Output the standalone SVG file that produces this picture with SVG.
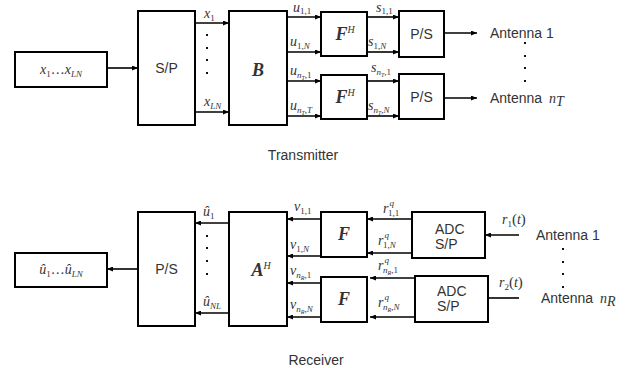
<svg xmlns="http://www.w3.org/2000/svg" width="640" height="368" viewBox="0 0 640 368">
<style>
.box{fill:#fff;stroke:#000;stroke-width:2}
.ln{stroke:#000;stroke-width:1.6;fill:none}
.ar{marker-end:url(#ah)}
.t{font-family:"Liberation Sans",Arial,sans-serif;font-size:14px;fill:#333}
.m{font-family:"Liberation Serif","Times New Roman",serif;font-style:italic;font-size:14px;fill:#333}
.b{font-weight:bold;font-size:18px}
.up{font-style:normal}
.dot{fill:#111}
</style>
<defs>
<marker id="ah" markerUnits="userSpaceOnUse" markerWidth="6" markerHeight="5" refX="6" refY="2.5" orient="auto">
<path d="M0,0 L6,2.5 L0,5 Z" fill="#000"/>
</marker>
</defs>
<rect width="640" height="368" fill="#fff"/>

<g id="connectors">
<line class="ln ar" x1="107" y1="68" x2="138" y2="68"/>
<line class="ln ar" x1="195" y1="23" x2="229" y2="23"/>
<line class="ln ar" x1="195" y1="112" x2="229" y2="112"/>
<line class="ln ar" x1="287" y1="17" x2="321" y2="17"/>
<line class="ln ar" x1="287" y1="52" x2="321" y2="52"/>
<line class="ln ar" x1="287" y1="81" x2="321" y2="81"/>
<line class="ln ar" x1="287" y1="116" x2="321" y2="116"/>
<line class="ln ar" x1="367" y1="17" x2="399" y2="17"/>
<line class="ln ar" x1="367" y1="52" x2="399" y2="52"/>
<line class="ln ar" x1="367" y1="81" x2="399" y2="81"/>
<line class="ln ar" x1="367" y1="116" x2="399" y2="116"/>
<line class="ln ar" x1="444" y1="33" x2="477" y2="33"/>
<line class="ln ar" x1="444" y1="98" x2="477" y2="98"/>

<line class="ln ar" x1="138" y1="269" x2="107" y2="269"/>
<line class="ln ar" x1="229" y1="223" x2="195" y2="223"/>
<line class="ln ar" x1="229" y1="313" x2="195" y2="313"/>
<line class="ln ar" x1="321" y1="219" x2="287" y2="219"/>
<line class="ln ar" x1="321" y1="256" x2="287" y2="256"/>
<line class="ln ar" x1="321" y1="283" x2="287" y2="283"/>
<line class="ln ar" x1="321" y1="317" x2="287" y2="317"/>
<line class="ln ar" x1="412" y1="219" x2="367" y2="219"/>
<line class="ln ar" x1="412" y1="253" x2="367" y2="253"/>
<line class="ln ar" x1="415" y1="278" x2="370" y2="278"/>
<line class="ln ar" x1="415" y1="317" x2="370" y2="317"/>
<line class="ln ar" x1="519" y1="235" x2="485" y2="235"/>
<line class="ln" x1="519" y1="298" x2="488" y2="298"/>
</g>

<g id="tx-input">
<rect class="box" x="15" y="52" width="92" height="35"/>
<text class="m" x="61" y="74" text-anchor="middle">x<tspan class="up" font-size="9" dy="3">1</tspan><tspan class="up" dy="-3">…</tspan>x<tspan font-size="9" dy="3">LN</tspan></text>
</g>
<g id="tx-sp">
<rect class="box" x="138" y="11" width="57" height="114"/>
<text class="t" x="166.5" y="73" text-anchor="middle">S/P</text>
</g>
<g id="tx-labels-x">
<text class="m" x="204" y="18">x<tspan class="up" font-size="9" dy="3">1</tspan></text>
<text class="m" x="204" y="106">x<tspan font-size="9" dy="3">LN</tspan></text>
<rect class="dot" x="206" y="34" width="2" height="2"/>
<rect class="dot" x="206" y="47" width="2" height="2"/>
<rect class="dot" x="206" y="59" width="2" height="2"/>
<rect class="dot" x="206" y="72" width="2" height="2"/>
</g>
<g id="tx-B">
<rect class="box" x="229" y="11" width="58" height="114"/>
<text class="m b" x="258" y="76" text-anchor="middle">B</text>
</g>
<g id="tx-u-labels">
<text class="m" x="293" y="12">u<tspan class="up" font-size="9" dy="2">1,1</tspan></text>
<text class="m" x="290" y="46">u<tspan class="up" font-size="9" dy="3">1,</tspan><tspan font-size="9">N</tspan></text>
<text class="m" x="290" y="75">u<tspan font-size="9" dy="3">n</tspan><tspan font-size="6" dy="2">T</tspan><tspan class="up" font-size="9" dy="-2">,1</tspan></text>
<text class="m" x="290" y="110">u<tspan font-size="9" dy="3">n</tspan><tspan font-size="6" dy="2">T</tspan><tspan class="up" font-size="9" dy="-2">,</tspan><tspan font-size="9">T</tspan></text>
</g>
<g id="tx-FH1">
<rect class="box" x="321" y="12" width="46" height="44"/>
<text class="m b" x="345" y="40" text-anchor="middle">F<tspan font-size="10" font-weight="normal" dy="-7">H</tspan></text>
</g>
<g id="tx-FH2">
<rect class="box" x="321" y="75" width="46" height="44"/>
<text class="m b" x="345" y="103" text-anchor="middle">F<tspan font-size="10" font-weight="normal" dy="-7">H</tspan></text>
</g>
<g id="tx-s-labels">
<text class="m" x="376" y="12">s<tspan class="up" font-size="9" dy="2">1,1</tspan></text>
<text class="m" x="368" y="46">s<tspan class="up" font-size="9" dy="3">1,</tspan><tspan font-size="9">N</tspan></text>
<text class="m" x="371" y="72">s<tspan font-size="9" dy="3">n</tspan><tspan font-size="6" dy="2">T</tspan><tspan class="up" font-size="9" dy="-2">,1</tspan></text>
<text class="m" x="368" y="110">s<tspan font-size="9" dy="3">n</tspan><tspan font-size="6" dy="2">T</tspan><tspan class="up" font-size="9" dy="-2">,</tspan><tspan font-size="9">N</tspan></text>
</g>
<g id="tx-ps1">
<rect class="box" x="399" y="11" width="45" height="46"/>
<text class="t" x="421.5" y="39" text-anchor="middle">P/S</text>
</g>
<g id="tx-ps2">
<rect class="box" x="399" y="74" width="45" height="45"/>
<text class="t" x="421.5" y="102" text-anchor="middle">P/S</text>
</g>
<g id="tx-antennas">
<text class="t" x="490" y="38">Antenna 1</text>
<text class="t" x="490" y="103">Antenna <tspan class="m" dx="3">n</tspan><tspan class="m" font-size="9" dy="3">T</tspan></text>
<rect class="dot" x="524" y="42" width="2" height="2"/>
<rect class="dot" x="524" y="55" width="2" height="2"/>
<rect class="dot" x="524" y="67" width="2" height="2"/>
<rect class="dot" x="524" y="80" width="2" height="2"/>
</g>
<g id="tx-title">
<text class="t" x="303" y="160" text-anchor="middle">Transmitter</text>
</g>

<g id="rx-output">
<rect class="box" x="15" y="253" width="92" height="34"/>
<text class="m" x="61" y="274" text-anchor="middle">û<tspan class="up" font-size="9" dy="3">1</tspan><tspan class="up" dy="-3">…</tspan>û<tspan font-size="9" dy="3">LN</tspan></text>
</g>
<g id="rx-ps">
<rect class="box" x="138" y="212" width="57" height="114"/>
<text class="t" x="166.5" y="274" text-anchor="middle">P/S</text>
</g>
<g id="rx-labels-u">
<text class="m" x="203" y="216">û<tspan class="up" font-size="9" dy="3">1</tspan></text>
<text class="m" x="203" y="306">û<tspan font-size="9" dy="3">NL</tspan></text>
<rect class="dot" x="206" y="235" width="2" height="2"/>
<rect class="dot" x="206" y="247" width="2" height="2"/>
<rect class="dot" x="206" y="260" width="2" height="2"/>
<rect class="dot" x="206" y="273" width="2" height="2"/>
</g>
<g id="rx-AH">
<rect class="box" x="229" y="212" width="58" height="114"/>
<text class="m b" x="261" y="276" text-anchor="middle">A<tspan font-size="10" font-weight="normal" dy="-7">H</tspan></text>
</g>
<g id="rx-v-labels">
<text class="m" x="294" y="211">v<tspan class="up" font-size="9" dy="3">1,1</tspan></text>
<text class="m" x="290" y="249">v<tspan class="up" font-size="9" dy="3">1,</tspan><tspan font-size="9">N</tspan></text>
<text class="m" x="290" y="275">v<tspan font-size="9" dy="3">n</tspan><tspan font-size="6" dy="2">R</tspan><tspan class="up" font-size="9" dy="-2">,1</tspan></text>
<text class="m" x="290" y="309">v<tspan font-size="9" dy="3">n</tspan><tspan font-size="6" dy="2">R</tspan><tspan class="up" font-size="9" dy="-2">,</tspan><tspan font-size="9">N</tspan></text>
</g>
<g id="rx-F1">
<rect class="box" x="321" y="212" width="46" height="45"/>
<text class="m b" x="344" y="240" text-anchor="middle">F</text>
</g>
<g id="rx-F2">
<rect class="box" x="321" y="277" width="46" height="45"/>
<text class="m b" x="344" y="305" text-anchor="middle">F</text>
</g>
<g id="rx-r-labels">
<text class="m" x="383" y="213">r<tspan font-size="9" dx="1" dy="-7">q</tspan><tspan class="up" font-size="9" dx="-6" dy="10">1,1</tspan></text>
<text class="m" x="378" y="245">r<tspan font-size="9" dx="1" dy="-7">q</tspan><tspan class="up" font-size="9" dx="-6" dy="10">1,</tspan><tspan font-size="9">N</tspan></text>
<text class="m" x="378" y="270">r<tspan font-size="9" dx="1" dy="-7">q</tspan><tspan font-size="9" dx="-6" dy="10">n</tspan><tspan font-size="6" dy="2">R</tspan><tspan class="up" font-size="9" dy="-2">,1</tspan></text>
<text class="m" x="378" y="307">r<tspan font-size="9" dx="1" dy="-7">q</tspan><tspan font-size="9" dx="-6" dy="10">n</tspan><tspan font-size="6" dy="2">R</tspan><tspan class="up" font-size="9" dy="-2">,</tspan><tspan font-size="9">N</tspan></text>
</g>
<g id="rx-adc1">
<rect class="box" x="412" y="212" width="73" height="46"/>
<text class="t" x="435" y="234">ADC</text>
<text class="t" x="435" y="249">S/P</text>
</g>
<g id="rx-adc2">
<rect class="box" x="415" y="276" width="73" height="46"/>
<text class="t" x="437" y="296">ADC</text>
<text class="t" x="437" y="311">S/P</text>
</g>
<g id="rx-antennas">
<text class="m" x="502" y="224">r<tspan class="up" font-size="9" dy="3">1</tspan><tspan class="up" font-size="15" dy="-3">(</tspan>t<tspan class="up" font-size="15">)</tspan></text>
<text class="m" x="499" y="287">r<tspan class="up" font-size="9" dy="3">2</tspan><tspan class="up" font-size="15" dy="-3">(</tspan>t<tspan class="up" font-size="15">)</tspan></text>
<text class="t" x="536" y="240">Antenna 1</text>
<text class="t" x="541" y="303">Antenna <tspan class="m" dx="3">n</tspan><tspan class="m" font-size="9" dy="3">R</tspan></text>
<rect class="dot" x="562" y="248" width="2" height="2"/>
<rect class="dot" x="562" y="261" width="2" height="2"/>
<rect class="dot" x="562" y="273" width="2" height="2"/>
<rect class="dot" x="562" y="286" width="2" height="2"/>
</g>
<g id="rx-title">
<text class="t" x="316" y="365" text-anchor="middle">Receiver</text>
</g>
</svg>
